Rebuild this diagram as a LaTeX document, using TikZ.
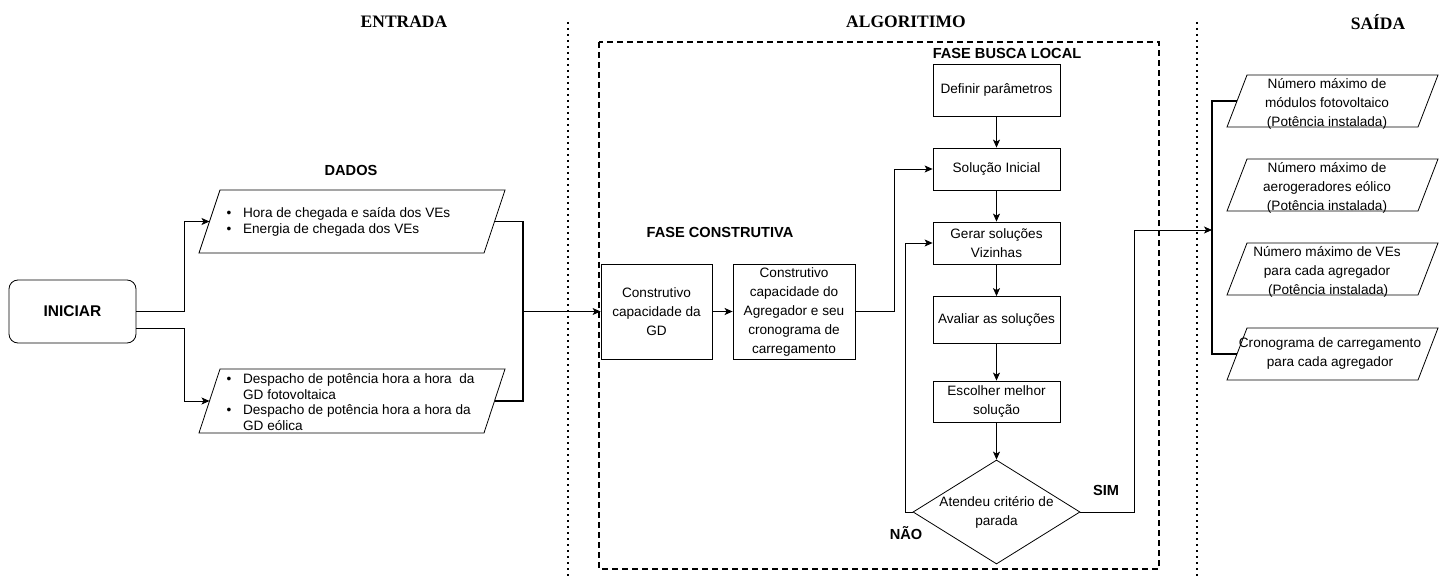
\documentclass[tikz,border=0pt]{standalone}
\usepackage{fontspec}
\setmainfont{Liberation Sans}
\newfontfamily\titlefont{Liberation Serif}
\usetikzlibrary{shapes.geometric,arrows.meta,positioning}

\newcommand{\marca}{\makebox[16.4pt][l]{\textbullet}}
\newcommand{\recuo}{\hspace*{16.4pt}}

\tikzset{
  bloco/.style={draw, line width=0.8pt, align=center, inner sep=2pt},
  losango/.style={draw, diamond, line width=0.8pt, inner sep=0pt, minimum width=167pt, minimum height=104pt},
  para/.style={draw, line width=0.8pt},
  seta/.style={-{Stealth[length=8pt,width=7pt,inset=2pt]}, line width=0.8pt},
  setagrossa/.style={-{Stealth[length=8pt,width=7pt,inset=2pt]}, line width=1.6pt},
  chave/.style={line width=1.8pt},
  rotulo/.style={font=\bfseries\fontsize{14.6}{17}\selectfont},
  titulo/.style={font=\titlefont\bfseries\fontsize{17.5}{20}\selectfont},
  lista/.style={anchor=west, align=left, inner sep=0pt, font=\fontsize{13.6}{15.6}\selectfont},
  pontilhado/.style={line width=1.8pt, dash pattern=on 1.6pt off 4.4pt},
  tracejado/.style={line width=1.6pt, dash pattern=on 6pt off 4pt}
}

\begin{document}
\begin{tikzpicture}[x=1pt, y=-1pt, font=\fontsize{13.6}{19}\selectfont]
    \useasboundingbox (0,0) rectangle (1447,577);

    % Column titles and separators
    \node[titulo] (entrada) at (404,22) {ENTRADA};
    \node[titulo] (algoritmo) at (906,22) {ALGORITIMO};
    \node[titulo] (saidatit) at (1378,22) {SAÍDA};
    \draw[pontilhado] (568,22) -- (568,577);
    \draw[pontilhado] (1197,22) -- (1197,577);
    \draw[tracejado] (599,42) rectangle (1159,569);

    % Start
    \node[draw, line width=0.8pt, rounded corners=9pt, minimum width=127pt, minimum height=63pt,
          font=\bfseries\fontsize{15.5}{18}\selectfont] (iniciar) at (72.5,311.5) {INICIAR};

    % Input data
    \node[rotulo] (dados) at (351,170) {DADOS};
    \draw[para] (199,253) -- (484,253) -- (505,190) -- (220,190) -- cycle;
    \coordinate (horas-w) at (209.5,221.5);
    \coordinate (horas-e) at (494.5,221.5);
    \node[lista] (horas) at (226.5,222) {\marca Hora de chegada e saída dos VEs\\
        \marca Energia de chegada dos VEs};
    \draw[para] (199,433) -- (484,433) -- (505,369) -- (220,369) -- cycle;
    \coordinate (despacho-w) at (209.5,401);
    \coordinate (despacho-e) at (494.5,401);
    \node[lista] (despacho) at (226.5,402) {\marca Despacho de potência hora a hora \ da\\
        \recuo GD fotovoltaica\\
        \marca Despacho de potência hora a hora da\\
        \recuo GD eólica};

    \draw[seta] (iniciar.east) -- ++(48,0) |- (horas-w);
    \draw[seta] ([yshift=-16.5pt]iniciar.east) -- ++(48,0) |- (despacho-w);

    \coordinate (juncao) at (523,311.5);
    \coordinate (ponta) at (557,311.5);
    \draw[chave] (horas-e) -| (juncao) |- (despacho-e);
    \draw[chave] (juncao) -- (ponta);

    % Constructive phase
    \node[rotulo] (construtiva) at (720,232) {FASE CONSTRUTIVA};
    \node[bloco, minimum width=111pt, minimum height=95pt] (gd) at (656.5,311.5)
        {Construtivo\\capacidade da\\GD};
    \node[bloco, minimum width=122pt, minimum height=95pt] (agg) at (794,311.5)
        {Construtivo\\capacidade do\\Agregador e seu\\cronograma de\\carregamento};
    \draw[seta] (ponta) -- (gd.west);
    \draw[setagrossa] (gd) -- (agg);

    % Local search phase
    \node[rotulo] (busca) at (1007,53) {FASE BUSCA LOCAL};
    \node[bloco, minimum width=127pt, minimum height=52pt] (def) at (996.5,90) {Definir parâmetros};
    \node[bloco, minimum width=127pt, minimum height=42pt] (sol) at (996.5,169) {Solução Inicial};
    \node[bloco, minimum width=127pt, minimum height=42pt] (viz) at (996.5,243) {Gerar soluções\\Vizinhas};
    \node[bloco, minimum width=127pt, minimum height=47pt] (ava) at (996.5,320) {Avaliar as soluções};
    \node[bloco, minimum width=127pt, minimum height=41pt] (esc) at (996.5,401.5) {Escolher melhor\\solução};
    \node[losango] (parada) at (996.5,512) {};
    \node[align=center] (paradatxt) at (parada) {Atendeu critério de\\parada};

    \draw[seta] (agg.east) -- ++(39,0) |- (sol.west);
    \draw[seta] (def) -- (sol);
    \draw[seta] (sol) -- (viz);
    \draw[seta] (viz) -- (ava);
    \draw[seta] (ava) -- (esc);
    \draw[seta] (esc) -- (parada);
    \draw[seta] (parada.west) -- ++(-7,0) |- (viz.west);
    \node[rotulo] (nao) at (906,533) {NÃO};
    \node[rotulo] (sim) at (1106,490) {SIM};

    % Outputs
    \foreach \i/\yt in {1/75,2/159,3/243,4/328}{
        \draw[para] (1227,\yt+52) -- (1418,\yt+52) -- (1438,\yt) -- (1247,\yt) -- cycle;
        \coordinate (out\i-w) at (1237,\yt+26);
    }
    \node[align=center] (out1) at (1327,103.5) {Número máximo de\\módulos fotovoltaico\\(Potência instalada)};
    \node[align=center] (out2) at (1327,187.5) {Número máximo de\\aerogeradores eólico\\(Potência instalada)};
    \node[align=center] (out3) at (1327,271.5) {Número máximo de VEs\\para cada agregador\\ \,(Potência instalada)};
    \node[align=center] (out4) at (1330,353) {Cronograma de carregamento\\para cada agregador};

    \coordinate (saida) at (1212,230);
    \draw[chave] (out1-w) -| (saida) |- (out4-w);
    \draw[seta] (parada.east) -- ++(54,0) |- (saida);

\end{tikzpicture}
\end{document}
